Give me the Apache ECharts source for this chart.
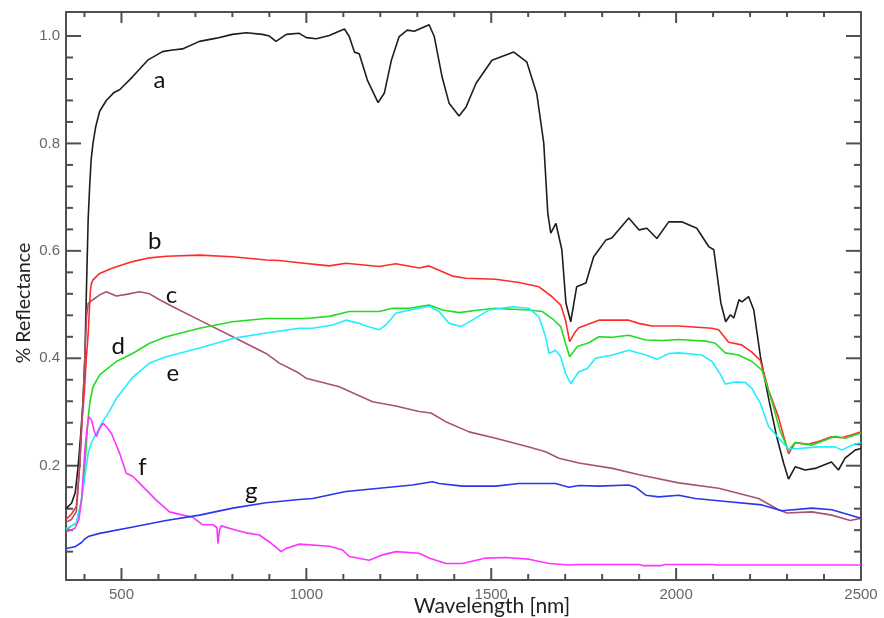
<!DOCTYPE html>
<html><head><meta charset="utf-8">
<script src="https://cdn.jsdelivr.net/npm/echarts@6/dist/echarts.min.js"></script>
<style>html,body{margin:0;padding:0;background:#fff}#c{width:884px;height:618px}</style>
</head><body><div id="c"></div>
<script>
// ---- data: [wavelength nm, reflectance] ----
const curveA = [[350,0.12],[365,0.13],[375,0.15],[383,0.2],[390,0.26],[396,0.32],[401,0.40],[405,0.52],[410,0.66],[414,0.72],[418,0.77],[423,0.80],[430,0.83],[441,0.86],[459,0.88],[480,0.895],[495,0.90],[530,0.924],[571,0.955],[611,0.971],[638,0.974],[665,0.976],[711,0.99],[757,0.996],[800,1.003],[838,1.006],[881,1.003],[900,1.0],[918,0.99],[946,1.003],[981,1.005],[1000,0.997],[1027,0.995],[1062,1.001],[1103,1.013],[1116,0.999],[1130,0.970],[1143,0.967],[1165,0.918],[1194,0.876],[1211,0.894],[1230,0.955],[1251,0.999],[1273,1.011],[1292,1.009],[1332,1.021],[1346,0.999],[1367,0.924],[1386,0.875],[1413,0.851],[1432,0.868],[1459,0.912],[1502,0.955],[1561,0.970],[1596,0.952],[1623,0.893],[1642,0.801],[1653,0.670],[1661,0.633],[1675,0.651],[1691,0.602],[1702,0.503],[1715,0.468],[1731,0.533],[1756,0.540],[1777,0.589],[1810,0.620],[1826,0.624],[1872,0.661],[1900,0.639],[1921,0.642],[1948,0.623],[1980,0.654],[2015,0.654],[2056,0.642],[2088,0.608],[2102,0.602],[2121,0.503],[2134,0.468],[2147,0.481],[2156,0.475],[2170,0.509],[2178,0.505],[2196,0.515],[2210,0.490],[2228,0.403],[2251,0.322],[2272,0.254],[2291,0.204],[2304,0.175],[2322,0.198],[2349,0.192],[2376,0.195],[2420,0.207],[2439,0.192],[2457,0.214],[2484,0.229],[2500,0.232]];
const curveB = [[350,0.10],[365,0.11],[378,0.124],[387,0.2],[393,0.28],[400,0.34],[405,0.40],[410,0.446],[416,0.527],[419,0.54],[423,0.546],[441,0.558],[476,0.568],[530,0.58],[576,0.587],[622,0.590],[711,0.592],[800,0.589],[892,0.583],[927,0.582],[981,0.578],[1062,0.572],[1107,0.577],[1197,0.571],[1242,0.576],[1305,0.568],[1332,0.572],[1395,0.553],[1431,0.549],[1512,0.547],[1575,0.541],[1629,0.533],[1664,0.515],[1688,0.499],[1701,0.471],[1712,0.431],[1728,0.45],[1737,0.457],[1791,0.471],[1872,0.471],[1899,0.465],[1934,0.46],[2007,0.46],[2097,0.456],[2115,0.453],[2142,0.43],[2177,0.425],[2204,0.412],[2228,0.396],[2250,0.341],[2277,0.29],[2304,0.222],[2322,0.243],[2358,0.24],[2385,0.245],[2420,0.254],[2447,0.252],[2474,0.257],[2500,0.263]];
const curveC = [[350,0.095],[365,0.1],[378,0.115],[387,0.2],[396,0.32],[402,0.42],[406,0.48],[410,0.502],[423,0.509],[441,0.518],[459,0.524],[486,0.516],[513,0.519],[549,0.524],[576,0.52],[603,0.509],[639,0.496],[711,0.471],[801,0.44],[891,0.409],[927,0.391],[981,0.372],[999,0.363],[1089,0.347],[1179,0.319],[1242,0.311],[1305,0.301],[1337,0.298],[1377,0.282],[1440,0.263],[1512,0.251],[1602,0.235],[1647,0.226],[1683,0.214],[1737,0.205],[1828,0.195],[1900,0.183],[2007,0.168],[2115,0.158],[2223,0.139],[2277,0.118],[2300,0.112],[2367,0.114],[2421,0.108],[2471,0.098],[2500,0.102]];
const curveD = [[350,0.08],[365,0.088],[378,0.093],[392,0.136],[401,0.198],[406,0.25],[410,0.29],[415,0.32],[423,0.347],[441,0.369],[486,0.394],[530,0.409],[576,0.428],[621,0.44],[711,0.456],[800,0.468],[891,0.474],[999,0.474],[1062,0.478],[1116,0.487],[1197,0.487],[1233,0.493],[1278,0.493],[1332,0.499],[1368,0.49],[1413,0.485],[1467,0.49],[1512,0.493],[1602,0.49],[1638,0.487],[1665,0.474],[1688,0.459],[1701,0.428],[1712,0.403],[1733,0.422],[1764,0.429],[1791,0.44],[1828,0.439],[1872,0.443],[1918,0.434],[1963,0.433],[2007,0.435],[2079,0.432],[2106,0.428],[2133,0.41],[2169,0.406],[2205,0.394],[2232,0.378],[2259,0.32],[2282,0.263],[2304,0.229],[2322,0.243],[2367,0.238],[2430,0.255],[2457,0.251],[2500,0.261]];
const curveE = [[350,0.083],[365,0.088],[378,0.093],[390,0.13],[396,0.155],[403,0.19],[410,0.223],[420,0.245],[432,0.26],[450,0.283],[468,0.302],[486,0.325],[531,0.365],[576,0.391],[621,0.403],[711,0.419],[801,0.437],[891,0.447],[981,0.456],[1017,0.456],[1071,0.462],[1107,0.471],[1143,0.465],[1161,0.46],[1197,0.453],[1215,0.462],[1242,0.484],[1287,0.491],[1332,0.497],[1359,0.487],[1386,0.465],[1418,0.459],[1449,0.471],[1494,0.49],[1557,0.496],[1602,0.493],[1629,0.477],[1647,0.44],[1656,0.409],[1674,0.415],[1688,0.403],[1701,0.372],[1715,0.353],[1737,0.375],[1760,0.381],[1782,0.4],[1828,0.406],[1872,0.415],[1918,0.406],[1949,0.398],[1980,0.409],[2007,0.41],[2070,0.406],[2097,0.394],[2120,0.37],[2133,0.352],[2160,0.356],[2187,0.355],[2205,0.344],[2228,0.316],[2250,0.273],[2282,0.248],[2304,0.231],[2331,0.232],[2385,0.235],[2430,0.235],[2448,0.229],[2475,0.238],[2500,0.243]];
const curveF = [[350,0.077],[374,0.083],[385,0.1],[392,0.136],[401,0.229],[407,0.27],[412,0.291],[419,0.285],[426,0.265],[432,0.254],[440,0.268],[450,0.279],[460,0.272],[473,0.26],[485,0.24],[495,0.223],[513,0.186],[531,0.18],[558,0.161],[594,0.136],[630,0.114],[666,0.108],[693,0.104],[720,0.09],[747,0.09],[758,0.085],[761,0.055],[765,0.08],[770,0.088],[810,0.08],[837,0.075],[873,0.071],[900,0.058],[932,0.04],[945,0.046],[981,0.054],[1062,0.05],[1098,0.043],[1116,0.031],[1170,0.024],[1206,0.034],[1242,0.04],[1305,0.037],[1332,0.028],[1377,0.018],[1422,0.018],[1485,0.028],[1539,0.029],[1602,0.026],[1656,0.018],[1710,0.015],[1737,0.016],[1900,0.016],[1910,0.014],[1960,0.014],[1970,0.016],[2100,0.016],[2110,0.015],[2500,0.015]];
const curveG = [[350,0.046],[374,0.049],[392,0.057],[400,0.063],[410,0.068],[441,0.074],[531,0.086],[621,0.098],[711,0.108],[801,0.121],[891,0.131],[981,0.137],[1017,0.139],[1107,0.152],[1197,0.158],[1287,0.164],[1341,0.17],[1359,0.167],[1422,0.162],[1512,0.162],[1575,0.167],[1674,0.167],[1710,0.16],[1737,0.163],[1791,0.162],[1872,0.164],[1890,0.16],[1918,0.145],[1953,0.142],[2007,0.145],[2052,0.139],[2142,0.133],[2232,0.127],[2286,0.116],[2367,0.121],[2421,0.118],[2500,0.102]];

const curveNames = ['a','b','c','d','e','f','g'];
// anchor of each curve's letter, in data units [nm, reflectance]
const labelAnchors = [[603,0.918],[590,0.617],[635,0.518],[491,0.422],[639,0.372],[557,0.198],[851,0.152]];

const xMin = 350, xMax = 2500, yMin = -0.0128, yMax = 1.0447;
const xMajorTicks = [500,1000,1500,2000,2500];
const xMinorTicks = [400,600,700,800,900,1100,1200,1300,1400,1600,1700,1800,1900,2100,2200,2300,2400];
const yMajorTicks = [0.2,0.4,0.6,0.8,1.0];
const yMinorTicks = [0.04,0.08,0.12,0.16,0.24,0.28,0.32,0.36,0.44,0.48,0.52,0.56,0.64,0.68,0.72,0.76,0.84,0.88,0.92,0.96];
const xTitle = 'Wavelength [nm]';
const yTitle = '% Reflectance';

// ---- chart ----
const AX = '#505050';
const colors = ['#1e1e1e','#ff2b2b','#a8536f','#22dd22','#22eeff','#ff33ff','#2a35ee'];
const curves = [curveA,curveB,curveC,curveD,curveE,curveF,curveG];

function xAx(pos, labels){
  return {type:'value', min:xMin, max:xMax, position:pos,
    axisLine:{show:true, onZero:false, lineStyle:{color:AX, width:2}},
    axisTick:{show:false},
    axisLabel:labels ? {show:true, customValues:xMajorTicks, color:'#666', fontSize:15, margin:7, formatter:v=>String(v)} : {show:false},
    splitLine:{show:false}};
}
function yAx(pos, labels){
  return {type:'value', min:yMin, max:yMax, position:pos,
    axisLine:{show:true, onZero:false, lineStyle:{color:AX, width:2}},
    axisTick:{show:false},
    axisLabel:labels ? {show:true, customValues:yMajorTicks, color:'#666', fontSize:15, margin:6, formatter:v=>v.toFixed(1)} : {show:false},
    splitLine:{show:false}};
}
const chart = echarts.init(document.getElementById('c'), null, {renderer:'canvas'});
chart.setOption({
  animation:false, backgroundColor:'#fff',
  grid:{left:66, right:23, top:12, bottom:38, containLabel:false},
  xAxis:[xAx('bottom',true), xAx('top',false)],
  yAxis:[yAx('left',true), yAx('right',false)],
  series: curves.map((d,i)=>({type:'line', data:d, showSymbol:false, lineStyle:{color:colors[i], width:1.6}}))
});

const toPx = p => chart.convertToPixel({xAxisIndex:0, yAxisIndex:0}, p);
const gfx = [];
// tick marks, positioned through the axis scales
function addTicks(values, dir, side, len){
  values.forEach(v=>{
    const p = dir==='x' ? toPx([v, side==='bottom'?yMin:yMax]) : toPx([side==='left'?xMin:xMax, v]);
    const q = dir==='x' ? [p[0], side==='bottom' ? p[1]-len : p[1]+len]
                        : [side==='left' ? p[0]+len : p[0]-len, p[1]];
    gfx.push({type:'line', shape:{x1:p[0],y1:p[1],x2:q[0],y2:q[1]}, style:{stroke:AX, lineWidth:2}});
  });
}
addTicks(xMajorTicks,'x','bottom',12); addTicks(xMinorTicks,'x','bottom',6);
addTicks(xMajorTicks,'x','top',11);    addTicks(xMinorTicks,'x','top',5);
addTicks(yMajorTicks,'y','left',15);   addTicks(yMinorTicks,'y','left',7);
addTicks(yMajorTicks,'y','right',15);  addTicks(yMinorTicks,'y','right',7);

labelAnchors.forEach((p,i)=>{
  const px = toPx(p);
  gfx.push({type:'text', x:px[0], y:px[1],
    style:{text:curveNames[i], fontSize:24, fontFamily:'Lato', fill:'#111', align:'center', verticalAlign:'middle'}});
});
gfx.push({type:'text', x:492, y:606, style:{text:xTitle, fontSize:21, fontFamily:'Lato', fill:'#222', align:'center', verticalAlign:'middle'}});
gfx.push({type:'text', x:24, y:303, rotation:Math.PI/2, style:{text:yTitle, fontSize:19.5, fontFamily:'Lato', fill:'#222', align:'center', verticalAlign:'middle'}});
chart.setOption({graphic:gfx});
</script>
</body></html>
